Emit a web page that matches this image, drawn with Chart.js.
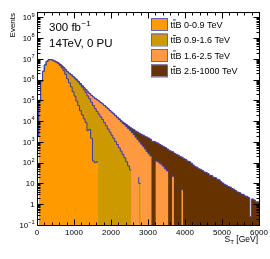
<!DOCTYPE html>
<html>
<head>
<meta charset="utf-8">
<script src="https://cdn.jsdelivr.net/npm/chart.js@4.4.1/dist/chart.umd.min.js"></script>
<style>
  html, body { margin: 0; padding: 0; background: #fff; }
</style>
</head>
<body>
<canvas id="st-chart" width="270" height="259"></canvas>
<script>
// S_T in 50 GeV bins, 0 - 6000 GeV
const binWidth = 50;
const xMax = 6000;
const xLabels = [0, 1000, 2000, 3000, 4000, 5000, 6000];
const yExponents = [-1, 0, 1, 2, 3, 4, 5, 6, 7, 8, 9];

const sliceNames = ['0-0.9 TeV', '0.9-1.6 TeV', '1.6-2.5 TeV', '2.5-1000 TeV'];
const sliceColors = ['#ff9a00', '#cc9a00', '#ff9a40', '#663300'];

// events per bin
const slice1 = [
  0, 2e3, 1e5, 8e5, 2.5e6, 5e6, 7.5e6, 8.9e6, 9e6, 8.5e6,
  7.6e6, 6.8e6, 5.9e6, 4.8e6, 3.7e6, 2.7e6, 1.8e6, 1.1e6, 7e5, 4.5e5,
  2.6e5, 1.6e5, 9.3e4, 5.6e4, 3.2e4, 2e4, 1.3e4, 8.5e3, 3.5e3, 4e3,
  1.5e3, 1.2e2, 1e2, 1.1e2, 0, 0, 80, 0, 0, 0,
  0, 0, 0, 0, 0, 0, 0, 0, 0, 0,
  0, 0, 0, 0, 0, 0, 0, 0, 0, 0,
  0, 0, 0, 0, 0, 0, 0, 0, 0, 0,
  0, 0, 0, 0, 0, 0, 0, 0, 0, 0,
  0, 0, 0, 0, 0, 0, 0, 0, 0, 0,
  0, 0, 0, 0, 0, 0, 0, 0, 0, 0,
  0, 0, 0, 0, 0, 0, 0, 0, 0, 0,
  0, 0, 0, 0, 0, 0, 0, 0, 0, 0
];
const slice2 = [
  0, 0, 0, 0, 0, 0, 1e3, 5e3, 2e4, 6e4,
  1.3e5, 2.4e5, 4e5, 6e5, 8e5, 1e6, 1.15e6, 1.25e6, 1.3e6, 1.25e6,
  1.15e6, 1e6, 8.5e5, 7e5, 5.5e5, 4.2e5, 3.1e5, 2.3e5, 1.6e5, 1.15e5,
  8e4, 5.6e4, 4e4, 2.9e4, 2.2e4, 1.6e4, 1.2e4, 8.5e3, 6e3, 4.2e3,
  3e3, 2.1e3, 1.5e3, 1.05e3, 7.5e2, 5.2e2, 3.6e2, 2.5e2, 1.7e2, 1.1e2,
  70, 45, 0, 30, 0, 20, 10, 0, 15, 0,
  0, 0, 0, 0, 0, 0, 0, 0, 0, 0,
  0, 0, 0, 0, 0, 0, 0, 0, 0, 0,
  0, 0, 0, 0, 0, 0, 0, 0, 0, 0,
  0, 0, 0, 0, 0, 0, 0, 0, 0, 0,
  0, 0, 0, 0, 0, 0, 0, 0, 0, 0,
  0, 0, 0, 0, 0, 0, 0, 0, 0, 0
];
const slice3 = [
  0, 0, 0, 0, 0, 0, 0, 0, 0, 0,
  0, 0, 0, 0, 0, 0, 0, 0, 1e3, 3e3,
  8e3, 1.6e4, 2.8e4, 4.2e4, 5.5e4, 6.8e4, 8e4, 8.8e4, 9.3e4, 9.4e4,
  9.2e4, 8.9e4, 8.4e4, 7.8e4, 7.1e4, 6.3e4, 5.5e4, 4.8e4, 4.1e4, 3.5e4,
  2.9e4, 2.45e4, 2.05e4, 1.7e4, 1.4e4, 1.15e4, 9.2e3, 7.6e3, 6.5e3, 5.3e3,
  4.3e3, 3.5e3, 2.8e3, 2.2e3, 1.7e3, 1.3e3, 1e3, 7.8e2, 6e2, 4.6e2,
  3.5e2, 2.7e2, 2.1e2, 0, 1.5e2, 1.2e2, 1.1e2, 95, 80, 65,
  50, 40, 0, 28, 22, 0, 12, 0, 7, 5,
  0, 3, 0, 0, 0, 0, 0, 0, 0, 0,
  0, 0, 0, 0, 0, 0, 0, 0, 0, 0,
  0, 0, 0, 0, 0, 0, 0, 0, 0, 0,
  0, 0, 0, 0, 0, 0, 0, 0, 0, 0
];
const slice4 = [
  0, 0, 0, 0, 0, 0, 0, 0, 0, 0,
  0, 0, 0, 0, 0, 0, 0, 0, 0, 0,
  0, 0, 0, 0, 0, 0, 0, 0, 0, 0,
  20, 30, 50, 65, 80, 110, 150, 200, 250, 320,
  400, 500, 600, 700, 800, 900, 1000, 1100, 1200, 1300,
  1400, 1450, 1500, 1600, 1600, 1650, 1600, 1550, 1500, 1400,
  1350, 1260, 1120, 1050, 910, 830, 760, 650, 600, 525,
  490, 420, 400, 330, 310, 275, 240, 230, 190, 178,
  155, 141, 120, 112, 95, 78, 65, 61, 51, 48,
  42, 36, 34, 30, 25, 24, 20, 19, 16, 15,
  12, 10.5, 9, 8.2, 7.1, 6.7, 5.7, 5.3, 4.5, 3.9,
  3.7, 3.1, 3, 2.5, 2.4, 2.1, 0.25, 1.8, 1.6, 1.3
];

const slices = [slice1, slice2, slice3, slice4];
const lineColor = '#3a3aaa';
const font = "'Liberation Sans', Arial, sans-serif";

// THStack style: each layer is drawn as the running sum, smallest on top
let running = new Array(slice1.length).fill(0);
const datasets = slices.map((values, k) => {
  running = running.map((v, i) => v + values[i]);
  const points = running.map((v, i) => ({x: i * binWidth, y: v}));
  points.push({x: running.length * binWidth, y: running[running.length - 1]});
  return {
    label: 'tt\u0304B ' + sliceNames[k],
    data: points,
    stepped: 'after',
    fill: 'start',
    backgroundColor: sliceColors[k],
    borderColor: lineColor,
    borderWidth: 1,
    pointRadius: 0
  };
});

function drawSup(ctx, base, sup, xRight, baseline, size) {
  ctx.font = size + 'px ' + font;
  const wb = ctx.measureText(base).width;
  ctx.font = (size * 0.72) + 'px ' + font;
  const ws = sup ? ctx.measureText(sup).width : 0;
  ctx.textAlign = 'left';
  if (sup) ctx.fillText(sup, xRight - ws, baseline - size * 0.45);
  ctx.font = size + 'px ' + font;
  ctx.fillText(base, xRight - ws - wb, baseline);
}

const framePlugin = {
  id: 'frame',
  afterDraw(chart) {
    const {ctx, chartArea: a, scales: {x, y}} = chart;
    ctx.save();
    ctx.strokeStyle = '#000';
    ctx.lineWidth = 1;
    const L = Math.round(a.left) + 0.5, R = Math.round(a.right) + 0.5;
    const T = Math.round(a.top) + 0.5, B = Math.round(a.bottom) + 0.5;
    ctx.strokeRect(L, T, R - L, B - T);

    ctx.beginPath();
    for (let v = 0; v <= xMax; v += 200) {
      const px = Math.round(x.getPixelForValue(v)) + 0.5;
      const len = v % 1000 === 0 ? 6 : 3;
      ctx.moveTo(px, B); ctx.lineTo(px, B - len);
      ctx.moveTo(px, T); ctx.lineTo(px, T + len);
    }
    yExponents.forEach(e => {
      for (let m = 1; m <= 9; m++) {
        const val = m * Math.pow(10, e);
        if (val > y.max) break;
        const py = Math.round(y.getPixelForValue(val)) + 0.5;
        const len = m === 1 ? 6 : 3;
        ctx.moveTo(L, py); ctx.lineTo(L + len, py);
        ctx.moveTo(R, py); ctx.lineTo(R - len, py);
      }
    });
    ctx.stroke();

    ctx.fillStyle = '#000';
    ctx.textBaseline = 'alphabetic';
    // y tick labels
    yExponents.forEach(e => {
      const py = y.getPixelForValue(Math.pow(10, e));
      if (e === 0) drawSup(ctx, '1', '', 34.5, py + 2.8, 7.8);
      else if (e === 1) drawSup(ctx, '10', '', 34.5, py + 2.8, 7.8);
      else drawSup(ctx, '10', String(e).replace('-', '\u2212'), 34.5, py + 2.8, 7.8);
    });
    // x tick labels
    ctx.font = '8px ' + font;
    ctx.textAlign = 'center';
    xLabels.forEach(v => ctx.fillText(String(v), x.getPixelForValue(v), 235));

    // axis titles
    ctx.font = '8.5px ' + font;
    ctx.textAlign = 'left';
    const tW = ctx.measureText('T').width * 0.72;
    const restW = ctx.measureText(' [GeV]').width;
    const sW = ctx.measureText('S').width;
    let xs = 258 - restW - tW - sW;
    ctx.fillText('S', xs, 242);
    ctx.font = (8.5 * 0.72) + 'px ' + font;
    ctx.fillText('T', xs + sW, 244);
    ctx.font = '8.5px ' + font;
    ctx.fillText(' [GeV]', xs + sW + tW, 242);

    ctx.save();
    ctx.translate(15.3, 13);
    ctx.rotate(-Math.PI / 2);
    ctx.font = '8px ' + font;
    ctx.textAlign = 'right';
    ctx.fillText('Events', 0, 0);
    ctx.restore();

    // luminosity text
    ctx.font = '11.5px ' + font;
    ctx.textAlign = 'left';
    ctx.fillText('300 fb', 49, 30.5);
    const fbW = ctx.measureText('300 fb').width;
    ctx.font = '8px ' + font;
    ctx.fillText('\u22121', 49 + fbW + 0.5, 25.5);
    ctx.font = '11.5px ' + font;
    ctx.fillText('14TeV, 0 PU', 49, 47);

    // legend
    const tops = [18, 33.5, 49, 64.5];
    chart.data.datasets.forEach((ds, k) => {
      const top = tops[k];
      ctx.fillStyle = ds.backgroundColor;
      ctx.fillRect(151, top, 16, 12);
      ctx.strokeStyle = '#6262c4';
      ctx.strokeRect(151.5, top + 0.5, 16, 12);
      ctx.fillStyle = '#000';
      ctx.font = '9px ' + font;
      const text = 'ttB ' + sliceNames[k];
      const bl = top + 9.5;
      ctx.fillText(text, 170.5, bl);
      const t1 = ctx.measureText('t').width;
      ctx.strokeStyle = '#000';
      ctx.lineWidth = 0.8;
      ctx.beginPath();
      ctx.moveTo(170.5 + t1, bl - 7.6);
      ctx.lineTo(170.5 + 2 * t1 + 0.3, bl - 7.6);
      ctx.stroke();
      ctx.lineWidth = 1;
    });
    ctx.restore();
  }
};

new Chart(document.getElementById('st-chart').getContext('2d'), {
  type: 'line',
  data: {datasets: datasets},
  options: {
    responsive: false,
    animation: false,
    layout: {padding: {left: 37, right: 11, top: 12, bottom: 34}},
    plugins: {legend: {display: false}, tooltip: {enabled: false}},
    scales: {
      x: {type: 'linear', min: 0, max: xMax, display: false},
      y: {type: 'logarithmic', min: 0.1, max: 1.8e9, display: false}
    }
  },
  plugins: [framePlugin]
});
</script>
</body>
</html>
